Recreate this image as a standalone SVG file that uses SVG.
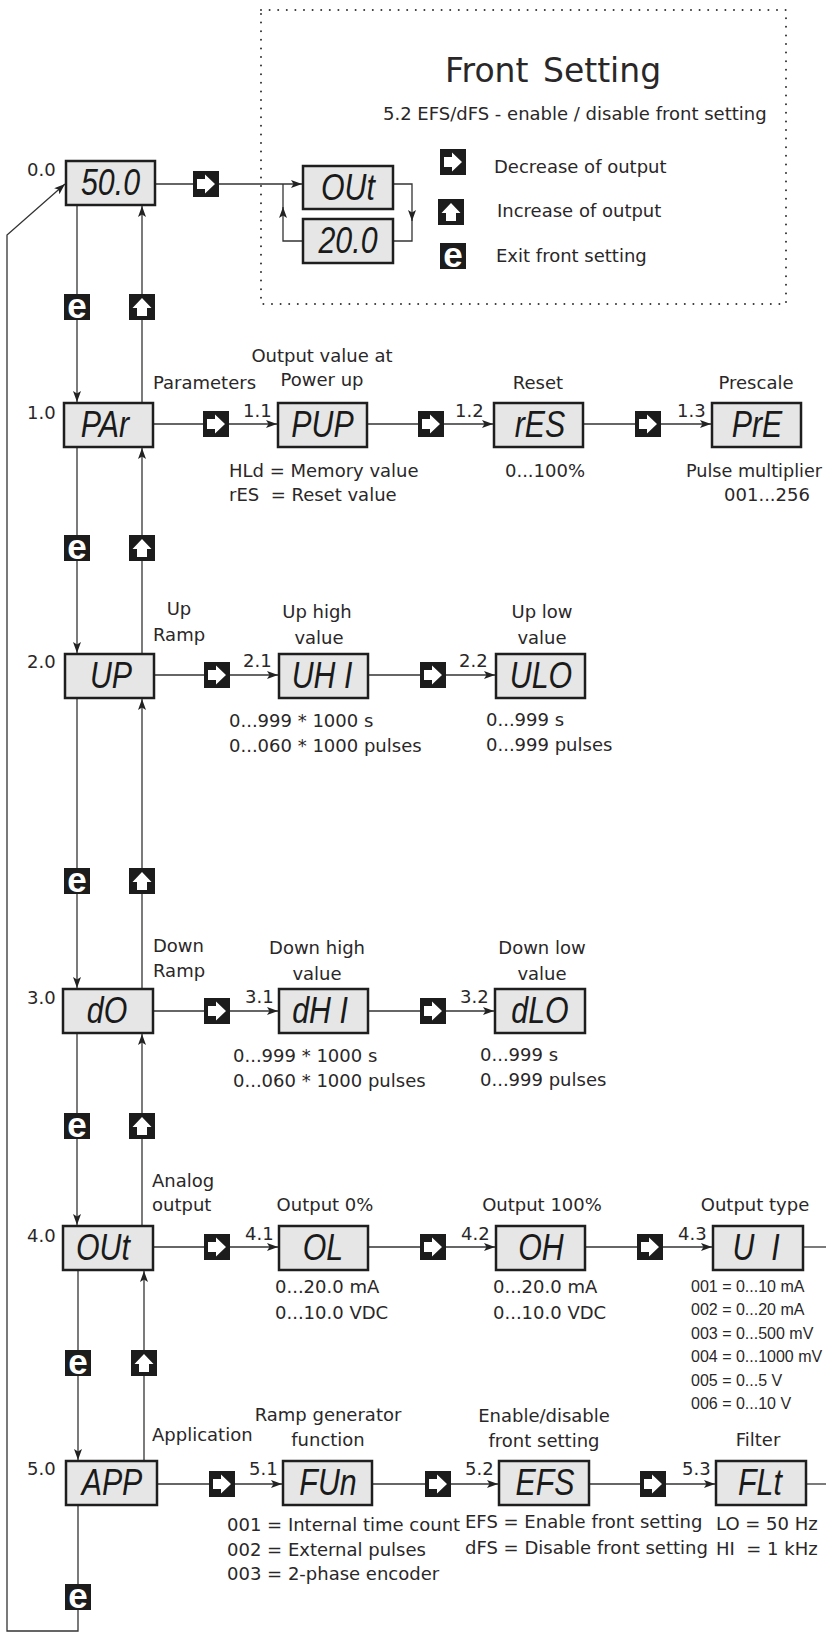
<svg xmlns="http://www.w3.org/2000/svg" xmlns:xlink="http://www.w3.org/1999/xlink" width="826" height="1633" viewBox="0 0 826 1633">
<style>
.t{font-family:"DejaVu Sans","Liberation Sans",sans-serif;font-size:18px;fill:#2a2728}
.m{text-anchor:middle}
.big{font-size:33px;word-spacing:4px}
.nar{font-family:"Liberation Sans",sans-serif;font-size:16px;fill:#2a2728}
.seg{font-family:"Liberation Sans",sans-serif;font-style:italic;font-size:37px;fill:#1a1a1a;text-anchor:middle}
.box{fill:#e5e6e5;stroke:#1e1e1e;stroke-width:2.5}
.ln{fill:none;stroke:#333;stroke-width:1.3}
.ar{marker-end:url(#ah)}
.kb{fill:#1c1c1c}
.kw{fill:#fff}
.ke{font-family:"Liberation Sans",sans-serif;font-weight:bold;font-size:35px;fill:#fff;text-anchor:middle}
.dot{fill:none;stroke:#333;stroke-width:2;stroke-linecap:round;stroke-dasharray:0 8.6}
</style>
<defs>
<marker id="ah" viewBox="0 0 11 8" refX="11" refY="4" markerWidth="11" markerHeight="8" markerUnits="userSpaceOnUse" orient="auto">
<path d="M0,0 L11,4 L0,8 L2.5,4 Z" fill="#222"/>
</marker>
<g id="kR"><rect class="kb" width="26" height="26"/><path class="kw" d="M4,8 H12 V3.5 L22,13 L12,22.5 V18 H4 Z"/></g>
<g id="kU"><rect class="kb" width="26" height="26"/><path class="kw" d="M8,22 V14 H3.5 L13,4 L22.5,14 H18 V22 Z"/></g>
<g id="kE"><rect class="kb" width="26" height="26"/><text class="ke" x="13" y="23.5">e</text></g>
</defs>
<rect width="826" height="1633" fill="#fff"/>

<g id="front-setting-frame">
<rect class="dot" x="261" y="10" width="525" height="294"/>
<text class="t big" x="445" y="82">Front Setting</text>
<text class="t" x="383" y="120">5.2 EFS/dFS - enable / disable front setting</text>
<use xlink:href="#kR" x="440" y="149"/>
<text class="t" x="494" y="173">Decrease of output</text>
<use xlink:href="#kU" x="438" y="199"/>
<text class="t" x="497" y="217">Increase of output</text>
<use xlink:href="#kE" x="440" y="243"/>
<text class="t" x="496" y="262">Exit front setting</text>
</g>

<g id="connectors">
<path class="ln ar" d="M155,184 H302"/>
<path class="ln ar" d="M393,184 H412 V221"/>
<path class="ln" d="M412,219 V241 H393"/>
<path class="ln ar" d="M303,241 H283 V207"/>
<path class="ln" d="M283,209 V184"/>
<path class="ln ar" d="M77,205 V402"/>
<path class="ln ar" d="M142,403 V206"/>
<path class="ln ar" d="M77,447 V653"/>
<path class="ln ar" d="M142,654 V448"/>
<path class="ln ar" d="M77,698 V988"/>
<path class="ln ar" d="M142,989 V699"/>
<path class="ln ar" d="M77,1033 V1225"/>
<path class="ln ar" d="M142,1226 V1034"/>
<path class="ln ar" d="M78,1270 V1460"/>
<path class="ln ar" d="M144,1461 V1271"/>
<path class="ln ar" d="M78,1505 V1631 H7 V235 L65,184"/>
<path class="ln ar" d="M153,424 H277"/>
<path class="ln ar" d="M367,424 H493"/>
<path class="ln ar" d="M583,424 H711"/>
<path class="ln ar" d="M154,675 H278"/>
<path class="ln ar" d="M368,675 H495"/>
<path class="ln ar" d="M153,1011 H278"/>
<path class="ln ar" d="M368,1011 H494"/>
<path class="ln ar" d="M153,1247 H278"/>
<path class="ln ar" d="M368,1247 H495"/>
<path class="ln ar" d="M585,1247 H712"/>
<path class="ln" d="M803,1247 H826"/>
<path class="ln ar" d="M157,1484 H282"/>
<path class="ln ar" d="M372,1484 H498"/>
<path class="ln ar" d="M589,1484 H715"/>
<path class="ln" d="M806,1484 H826"/>
</g>

<g id="keys">
<use xlink:href="#kR" x="193" y="171"/>
<use xlink:href="#kE" x="64" y="294"/>
<use xlink:href="#kU" x="129" y="294"/>
<use xlink:href="#kR" x="203" y="411"/>
<use xlink:href="#kR" x="418" y="411"/>
<use xlink:href="#kR" x="635" y="411"/>
<use xlink:href="#kE" x="64" y="535"/>
<use xlink:href="#kU" x="129" y="535"/>
<use xlink:href="#kR" x="204" y="662"/>
<use xlink:href="#kR" x="420" y="662"/>
<use xlink:href="#kE" x="64" y="868"/>
<use xlink:href="#kU" x="129" y="868"/>
<use xlink:href="#kR" x="204" y="998"/>
<use xlink:href="#kR" x="420" y="998"/>
<use xlink:href="#kE" x="64" y="1113"/>
<use xlink:href="#kU" x="129" y="1113"/>
<use xlink:href="#kR" x="204" y="1234"/>
<use xlink:href="#kR" x="420" y="1234"/>
<use xlink:href="#kR" x="637" y="1234"/>
<use xlink:href="#kE" x="65" y="1350"/>
<use xlink:href="#kU" x="131" y="1350"/>
<use xlink:href="#kR" x="209" y="1471"/>
<use xlink:href="#kR" x="425" y="1471"/>
<use xlink:href="#kR" x="640" y="1471"/>
<use xlink:href="#kE" x="65" y="1584"/>
</g>

<g id="n00">
<rect class="box" x="66" y="161" width="89" height="44"/>
<text class="seg" transform="translate(110.5,195) scale(0.82,1)">50.0</text>
<text class="t" x="27" y="176">0.0</text>
</g>
<g id="fs-out">
<rect class="box" x="303" y="166" width="90" height="43"/>
<text class="seg" transform="translate(348,200) scale(0.82,1)">OUt</text>
</g>
<g id="fs-200">
<rect class="box" x="303" y="219" width="90" height="44"/>
<text class="seg" transform="translate(348,253) scale(0.82,1)">20.0</text>
</g>

<g id="n10">
<rect class="box" x="64" y="403" width="89" height="44"/>
<text class="seg" transform="translate(105,437) scale(0.82,1)">PAr</text>
<text class="t" x="27" y="419">1.0</text>
<text class="t" x="153" y="389">Parameters</text>
</g>
<g id="n11">
<rect class="box" x="278" y="403" width="89" height="44"/>
<text class="seg" transform="translate(322.5,437) scale(0.82,1)">PUP</text>
<text class="t" x="243" y="417">1.1</text>
<text class="t m" x="322" y="362">Output value at</text>
<text class="t m" x="322" y="386">Power up</text>
<text class="t" x="229" y="477">HLd = Memory value</text>
<text class="t" x="229" y="501" xml:space="preserve">rES  = Reset value</text>
</g>
<g id="n12">
<rect class="box" x="494" y="403" width="89" height="44"/>
<text class="seg" transform="translate(540,437) scale(0.82,1)">rES</text>
<text class="t" x="455" y="417">1.2</text>
<text class="t m" x="538" y="389">Reset</text>
<text class="t m" x="545" y="477">0...100%</text>
</g>
<g id="n13">
<rect class="box" x="712" y="403" width="89" height="44"/>
<text class="seg" transform="translate(757,437) scale(0.82,1)">PrE</text>
<text class="t" x="677" y="417">1.3</text>
<text class="t m" x="756" y="389">Prescale</text>
<text class="t" x="686" y="477" textLength="136" lengthAdjust="spacingAndGlyphs">Pulse multiplier</text>
<text class="t m" x="767" y="501">001...256</text>
</g>

<g id="n20">
<rect class="box" x="65" y="654" width="89" height="44"/>
<text class="seg" transform="translate(111,688) scale(0.82,1)">UP</text>
<text class="t" x="27" y="668">2.0</text>
<text class="t m" x="179" y="615">Up</text>
<text class="t" x="153" y="641">Ramp</text>
</g>
<g id="n21">
<rect class="box" x="279" y="654" width="89" height="44"/>
<text class="seg" transform="translate(322,688) scale(0.82,1)">UH I</text>
<text class="t" x="243" y="667">2.1</text>
<text class="t m" x="317" y="618">Up high</text>
<text class="t m" x="319" y="644">value</text>
<text class="t" x="229" y="727">0...999 * 1000 s</text>
<text class="t" x="229" y="752">0...060 * 1000 pulses</text>
</g>
<g id="n22">
<rect class="box" x="496" y="654" width="89" height="44"/>
<text class="seg" transform="translate(541,688) scale(0.82,1)">ULO</text>
<text class="t" x="459" y="667">2.2</text>
<text class="t m" x="542" y="618">Up low</text>
<text class="t m" x="542" y="644">value</text>
<text class="t" x="486" y="726">0...999 s</text>
<text class="t" x="486" y="751">0...999 pulses</text>
</g>

<g id="n30">
<rect class="box" x="63" y="989" width="90" height="44"/>
<text class="seg" transform="translate(107,1023) scale(0.82,1)">dO</text>
<text class="t" x="27" y="1004">3.0</text>
<text class="t" x="153" y="952">Down</text>
<text class="t" x="153" y="977">Ramp</text>
</g>
<g id="n31">
<rect class="box" x="279" y="989" width="89" height="44"/>
<text class="seg" transform="translate(320,1023) scale(0.82,1)">dH I</text>
<text class="t" x="245" y="1003">3.1</text>
<text class="t m" x="317" y="954">Down high</text>
<text class="t m" x="317" y="980">value</text>
<text class="t" x="233" y="1062">0...999 * 1000 s</text>
<text class="t" x="233" y="1087">0...060 * 1000 pulses</text>
</g>
<g id="n32">
<rect class="box" x="495" y="989" width="90" height="44"/>
<text class="seg" transform="translate(540,1023) scale(0.82,1)">dLO</text>
<text class="t" x="460" y="1003">3.2</text>
<text class="t m" x="542" y="954">Down low</text>
<text class="t m" x="542" y="980">value</text>
<text class="t" x="480" y="1061">0...999 s</text>
<text class="t" x="480" y="1086">0...999 pulses</text>
</g>

<g id="n40">
<rect class="box" x="63" y="1226" width="90" height="44"/>
<text class="seg" transform="translate(103,1260) scale(0.82,1)">OUt</text>
<text class="t" x="27" y="1242">4.0</text>
<text class="t" x="152" y="1187">Analog</text>
<text class="t" x="152" y="1211">output</text>
</g>
<g id="n41">
<rect class="box" x="279" y="1226" width="89" height="44"/>
<text class="seg" transform="translate(323,1260) scale(0.82,1)">OL</text>
<text class="t" x="245" y="1240">4.1</text>
<text class="t m" x="325" y="1211">Output 0%</text>
<text class="t" x="275" y="1293">0...20.0 mA</text>
<text class="t" x="275" y="1319">0...10.0 VDC</text>
</g>
<g id="n42">
<rect class="box" x="496" y="1226" width="89" height="44"/>
<text class="seg" transform="translate(541,1260) scale(0.82,1)">OH</text>
<text class="t" x="461" y="1240">4.2</text>
<text class="t m" x="542" y="1211">Output 100%</text>
<text class="t" x="493" y="1293">0...20.0 mA</text>
<text class="t" x="493" y="1319">0...10.0 VDC</text>
</g>
<g id="n43">
<rect class="box" x="713" y="1226" width="90" height="44"/>
<text class="seg" transform="translate(756,1260) scale(0.82,1)" xml:space="preserve">U  I</text>
<text class="t" x="678" y="1240">4.3</text>
<text class="t m" x="755" y="1211">Output type</text>
<text class="nar" x="691" y="1292">001 = 0...10 mA</text>
<text class="nar" x="691" y="1315">002 = 0...20 mA</text>
<text class="nar" x="691" y="1339">003 = 0...500 mV</text>
<text class="nar" x="691" y="1362">004 = 0...1000 mV</text>
<text class="nar" x="691" y="1386">005 = 0...5 V</text>
<text class="nar" x="691" y="1409">006 = 0...10 V</text>
</g>

<g id="n50">
<rect class="box" x="66" y="1461" width="91" height="44"/>
<text class="seg" transform="translate(112,1495) scale(0.82,1)">APP</text>
<text class="t" x="27" y="1475">5.0</text>
<text class="t" x="152" y="1441">Application</text>
</g>
<g id="n51">
<rect class="box" x="283" y="1461" width="89" height="44"/>
<text class="seg" transform="translate(328,1495) scale(0.82,1)">FUn</text>
<text class="t" x="249" y="1475">5.1</text>
<text class="t m" x="328" y="1421">Ramp generator</text>
<text class="t m" x="328" y="1446">function</text>
<text class="t" x="227" y="1531">001 = Internal time count</text>
<text class="t" x="227" y="1556">002 = External pulses</text>
<text class="t" x="227" y="1580">003 = 2-phase encoder</text>
</g>
<g id="n52">
<rect class="box" x="499" y="1461" width="90" height="44"/>
<text class="seg" transform="translate(545,1495) scale(0.82,1)">EFS</text>
<text class="t" x="465" y="1475">5.2</text>
<text class="t m" x="544" y="1422">Enable/disable</text>
<text class="t m" x="544" y="1447">front setting</text>
<text class="t" x="465" y="1528">EFS = Enable front setting</text>
<text class="t" x="465" y="1554">dFS = Disable front setting</text>
</g>
<g id="n53">
<rect class="box" x="716" y="1461" width="90" height="44"/>
<text class="seg" transform="translate(760,1495) scale(0.82,1)">FLt</text>
<text class="t" x="682" y="1475">5.3</text>
<text class="t m" x="758" y="1446">Filter</text>
<text class="t" x="716" y="1530">LO = 50 Hz</text>
<text class="t" x="716" y="1555" xml:space="preserve">HI  = 1 kHz</text>
</g>
</svg>
